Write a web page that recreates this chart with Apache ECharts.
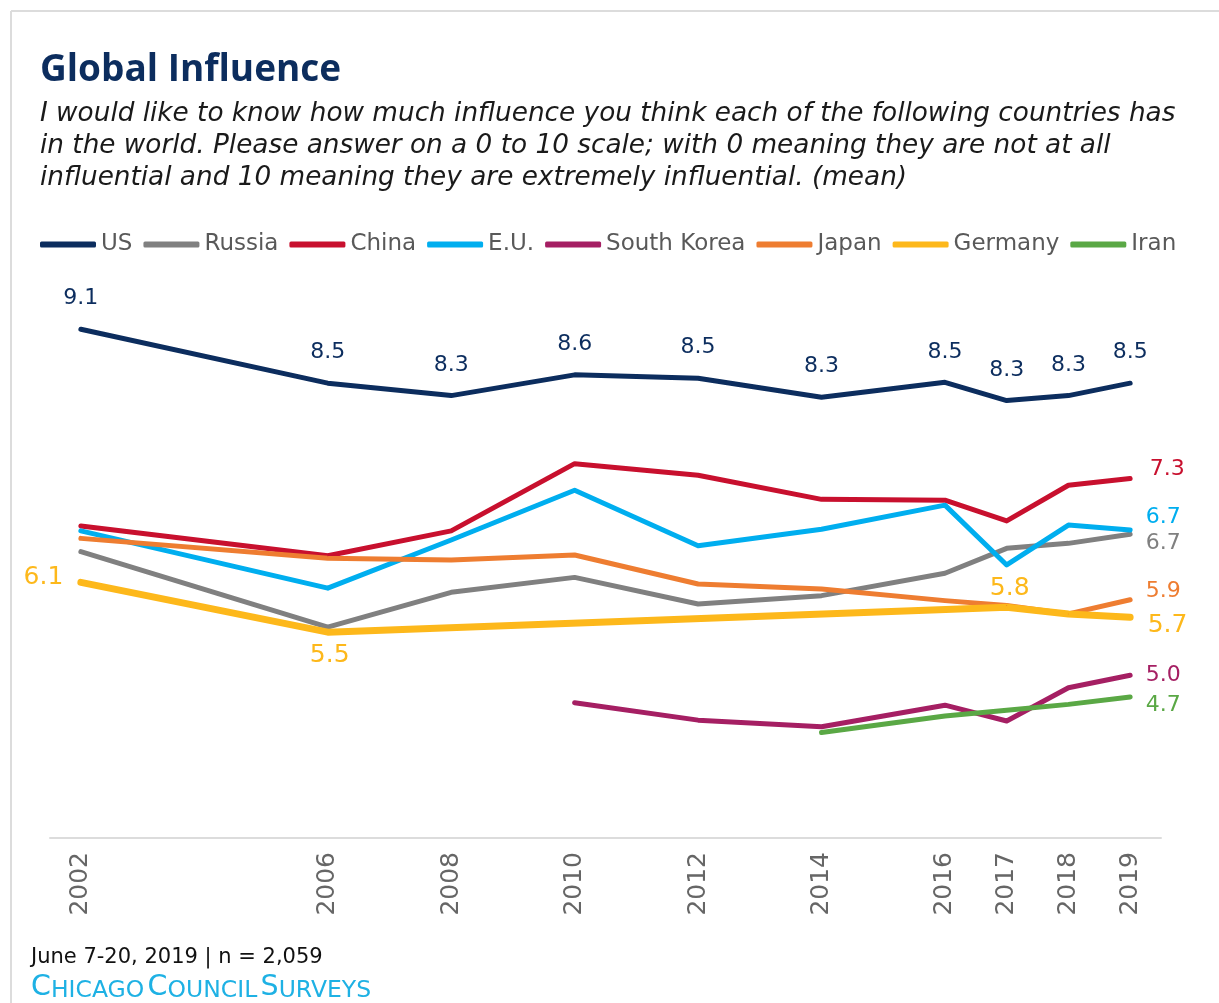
<!DOCTYPE html>
<html>
<head>
<meta charset="utf-8">
<script src="https://cdn.jsdelivr.net/npm/echarts@6/dist/echarts.min.js"></script>
<style>
html,body{margin:0;padding:0;background:#fff;}
#chart{width:1219px;height:1003px;}
</style>
</head>
<body>
<div id="chart"></div>
<script>
// ---- data ----
const years = [2002, 2006, 2008, 2010, 2012, 2014, 2016, 2017, 2018, 2019];
const usValues      = [9.13, 8.48, 8.33, 8.58, 8.54, 8.31, 8.49, 8.27, 8.33, 8.48];
const russiaValues  = [6.45, 5.54, 5.96, 6.14, 5.82, 5.92, 6.19, 6.49, 6.55, 6.66];
const chinaValues   = [6.76, 6.40, 6.70, 7.51, 7.37, 7.08, 7.07, 6.82, 7.25, 7.33];
const euValues      = [6.70, 6.01, 6.59, 7.19, 6.52, 6.72, 7.01, 6.29, 6.77, 6.71];
const japanValues   = [6.61, 6.37, 6.35, 6.41, 6.06, 6.00, 5.86, 5.80, 5.70, 5.87];
const germanyYears  = [2002, 2006, 2017, 2018, 2019];
const germanyValues = [6.08, 5.48, 5.78, 5.70, 5.66];
const southKoreaYears  = [2010, 2012, 2014, 2016, 2017, 2018, 2019];
const southKoreaValues = [4.63, 4.42, 4.34, 4.60, 4.41, 4.81, 4.96];
const iranYears  = [2014, 2016, 2017, 2018, 2019];
const iranValues = [4.27, 4.47, 4.54, 4.61, 4.70];
const xTickLabels = [2002, 2006, 2008, 2010, 2012, 2014, 2016, 2017, 2018, 2019];

const FONT = '"DejaVu Sans", "Noto Sans", sans-serif';
const TITLE_FONT = '"Open Sans", "Noto Sans", sans-serif';

function buildSeries(name, xs, ys, color, width, labels, fontSize) {
  return {
    name: name, type: 'line', symbol: 'circle', symbolSize: 1, showSymbol: true,
    lineStyle: { color: color, width: width, cap: 'round', join: 'round' },
    itemStyle: { color: color },
    emphasis: { disabled: true },
    data: xs.map(function (x, i) {
      const item = { value: [x, ys[i]] };
      const l = labels ? labels[i] : null;
      if (l) {
        item.label = Object.assign({
          show: true, color: color, fontSize: fontSize, fontFamily: FONT,
          formatter: function (p) { return p.value[1].toFixed(1); }
        }, l);
      }
      return item;
    })
  };
}

const labelTop = { position: 'top', distance: 19 };
const usLabels = years.map(function () { return labelTop; });
function lastOnly(n, spec) { const a = []; a[n - 1] = spec; return a; }

const seriesList = [
  buildSeries('US', years, usValues, '#0c2d5e', 5, usLabels, 22),
  buildSeries('Russia', years, russiaValues, '#808080', 5, lastOnly(10, { position: 'right', distance: 15, offset: [0, 9] }), 22),
  buildSeries('China', years, chinaValues, '#c8102e', 5, lastOnly(10, { position: 'right', distance: 19, offset: [0, -9] }), 22),
  buildSeries('E.U.', years, euValues, '#00aeef', 5, lastOnly(10, { position: 'right', distance: 15, offset: [0, -13] }), 22),
  buildSeries('South Korea', southKoreaYears, southKoreaValues, '#a51f63', 5, lastOnly(7, { position: 'right', distance: 15, offset: [0, 0] }), 22),
  buildSeries('Japan', years, japanValues, '#ee7d31', 5, lastOnly(10, { position: 'right', distance: 15, offset: [0, -9] }), 22),
  buildSeries('Germany', germanyYears, germanyValues, '#fdb81b', 7, [
    { position: 'left', distance: 17, offset: [0, -5] },
    { position: 'bottom', distance: 10, offset: [2, 0] },
    { position: 'top', distance: 6, offset: [3, 0] },
    null,
    { position: 'right', distance: 17, offset: [0, 8] }
  ], 25),
  buildSeries('Iran', iranYears, iranValues, '#5aa845', 5, lastOnly(5, { position: 'right', distance: 15, offset: [0, 8] }), 22)
];

const chart = echarts.init(document.getElementById('chart'), null, { renderer: 'canvas' });
chart.setOption({
  animation: false,
  backgroundColor: '#fff',
  graphic: [
    { type: 'line', shape: { x1: 11, y1: 11, x2: 1219, y2: 11 }, style: { stroke: '#dcdcdc', lineWidth: 2 } },
    { type: 'line', shape: { x1: 11, y1: 11, x2: 11, y2: 1003 }, style: { stroke: '#dcdcdc', lineWidth: 2 } },
    { type: 'text', left: 40, top: 52, style: { text: 'Global Influence', font: 'bold 37px ' + TITLE_FONT, fill: '#0c2d5e' } },
    { type: 'text', left: 40, top: 98, style: {
      text: 'I would like to know how much influence you think each of the following countries has\nin the world. Please answer on a 0 to 10 scale; with 0 meaning they are not at all\ninfluential and 10 meaning they are extremely influential. (mean)',
      font: 'italic 26.3px ' + FONT, fill: '#1a1a1a', lineHeight: 32 } },
    { type: 'text', x: 31, y: 958, style: { text: 'June 7-20, 2019 | n = 2,059', font: '21px ' + FONT, fill: '#111', verticalAlign: 'middle' } },
    { type: 'text', x: 31, y: 988, style: {
      text: '{b|C}{s|HICAGO} {b|C}{s|OUNCIL} {b|S}{s|URVEYS}',
      verticalAlign: 'middle',
      rich: {
        b: { fontSize: 28.5, fontFamily: FONT, fill: '#1eb1e4', verticalAlign: 'bottom' },
        s: { fontSize: 23.5, fontFamily: FONT, fill: '#1eb1e4', verticalAlign: 'bottom' }
      } } }
  ],
  legend: {
    left: 40, top: 233, padding: 0, icon: 'roundRect', itemWidth: 56, itemHeight: 6, itemGap: 11,
    textStyle: { fontSize: 23, color: '#595959', fontFamily: FONT },
    data: ['US', 'Russia', 'China', 'E.U.', 'South Korea', 'Japan', 'Germany', 'Iran']
  },
  grid: { left: 50, right: 58, top: 257, bottom: 165, containLabel: false },
  xAxis: {
    type: 'value', min: 2001.5, max: 2019.5,
    axisLine: { show: true, lineStyle: { color: '#dcdcdc', width: 2 } },
    axisTick: { show: false },
    splitLine: { show: false },
    axisLabel: {
      customValues: xTickLabels, rotate: 90, margin: 14,
      fontSize: 25, color: '#666', fontFamily: FONT,
      formatter: function (v) { return String(v); }
    }
  },
  yAxis: { type: 'value', min: 3, max: 10, show: false, splitLine: { show: false } },
  series: seriesList
});
</script>
</body>
</html>
